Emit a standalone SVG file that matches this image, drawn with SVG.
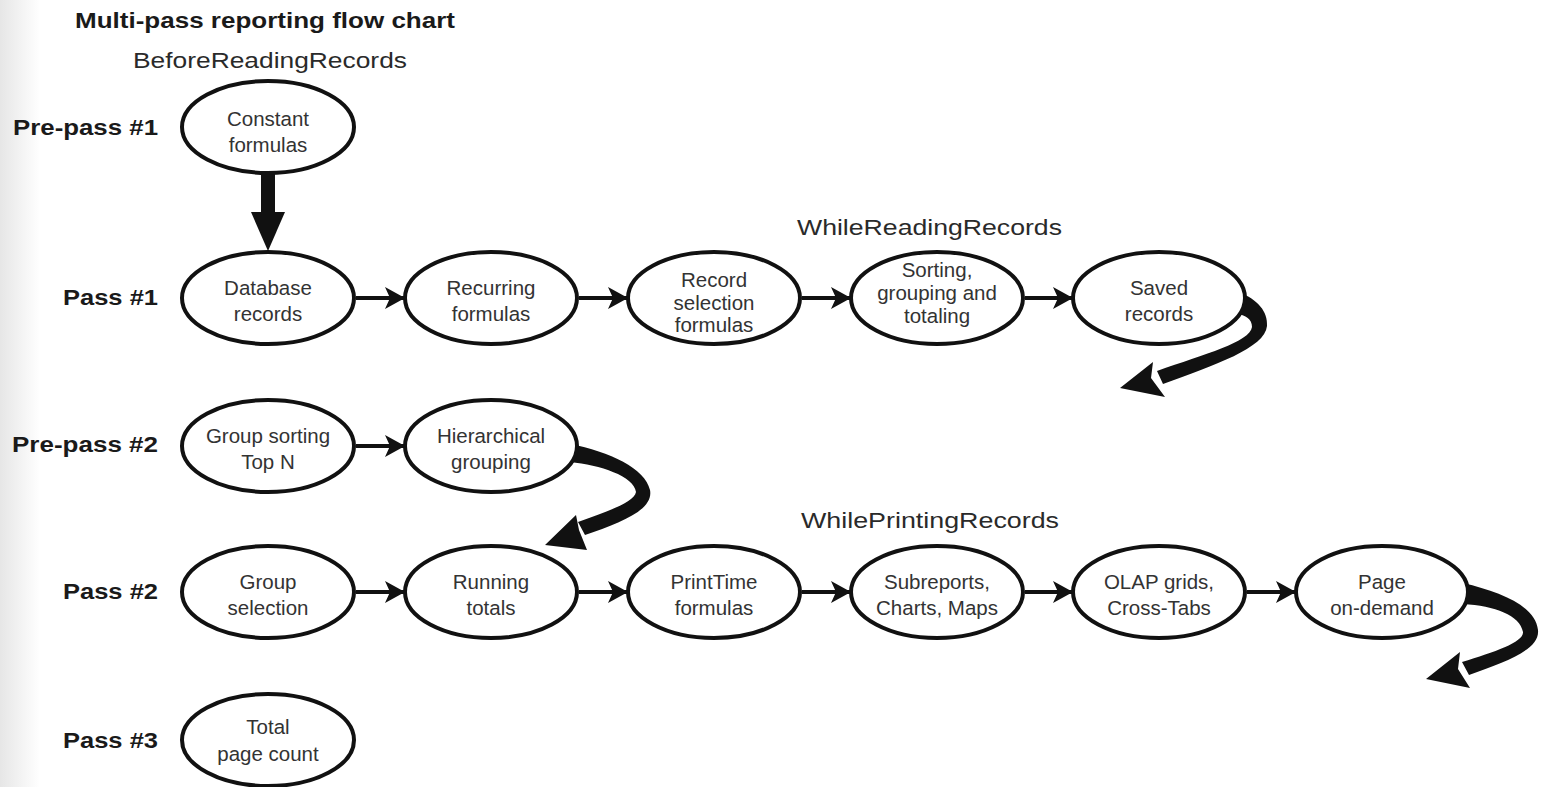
<svg xmlns="http://www.w3.org/2000/svg" width="1541" height="787" viewBox="0 0 1541 787">
<defs>
<linearGradient id="edge" x1="0" y1="0" x2="1" y2="0">
<stop offset="0" stop-color="#e6e6e6"/>
<stop offset="1" stop-color="#ffffff"/>
</linearGradient>
<marker id="ah" viewBox="0 0 20 22" refX="19" refY="11" markerWidth="20" markerHeight="22" markerUnits="userSpaceOnUse" orient="auto">
<path d="M0,0 L20,11 L0,22 L5,11 z" fill="#111"/>
</marker>
</defs>
<style>
.node ellipse{fill:#fff;stroke:#111;stroke-width:4}
.node text{font-family:"Liberation Sans",Arial,Helvetica,sans-serif;font-size:20.5px;fill:#333;text-anchor:middle}
.lbl{font-family:"Liberation Sans",Arial,Helvetica,sans-serif;font-size:22px;font-weight:bold;fill:#1a1a1a;text-anchor:end}
.head{font-family:"Liberation Sans",Arial,Helvetica,sans-serif;font-size:22px;fill:#2a2a2a}
.title{font-family:"Liberation Sans",Arial,Helvetica,sans-serif;font-size:22px;font-weight:bold;fill:#1a1a1a}
.h{stroke:#111;stroke-width:4;fill:none;marker-end:url(#ah)}
.fill{fill:#111}
</style>
<rect x="0" y="0" width="1541" height="787" fill="#fff"/>
<rect x="0" y="0" width="40" height="787" fill="url(#edge)"/>

<text class="title" x="75" y="28" textLength="380" lengthAdjust="spacingAndGlyphs">Multi-pass reporting flow chart</text>
<text class="head" x="133" y="68" textLength="274" lengthAdjust="spacingAndGlyphs">BeforeReadingRecords</text>
<text class="head" x="797" y="235" textLength="265" lengthAdjust="spacingAndGlyphs">WhileReadingRecords</text>
<text class="head" x="801" y="528" textLength="258" lengthAdjust="spacingAndGlyphs">WhilePrintingRecords</text>

<g id="labels">
<text class="lbl" x="158" y="135" textLength="145" lengthAdjust="spacingAndGlyphs">Pre-pass #1</text>
<text class="lbl" x="158" y="305" textLength="95" lengthAdjust="spacingAndGlyphs">Pass #1</text>
<text class="lbl" x="158" y="452" textLength="146" lengthAdjust="spacingAndGlyphs">Pre-pass #2</text>
<text class="lbl" x="158" y="599" textLength="95" lengthAdjust="spacingAndGlyphs">Pass #2</text>
<text class="lbl" x="158" y="748" textLength="95" lengthAdjust="spacingAndGlyphs">Pass #3</text>
</g>

<g id="connectors">
<rect class="fill" x="261" y="172" width="14" height="44"/>
<polygon class="fill" points="251,212 285,212 268,251"/>
<line class="h" x1="356" y1="298" x2="404" y2="298"/>
<line class="h" x1="579" y1="298" x2="627" y2="298"/>
<line class="h" x1="802" y1="298" x2="850" y2="298"/>
<line class="h" x1="1025" y1="298" x2="1072" y2="298"/>
<line class="h" x1="356" y1="446" x2="404" y2="446"/>
<line class="h" x1="356" y1="592" x2="404" y2="592"/>
<line class="h" x1="579" y1="592" x2="627" y2="592"/>
<line class="h" x1="802" y1="592" x2="850" y2="592"/>
<line class="h" x1="1025" y1="592" x2="1072" y2="592"/>
<line class="h" x1="1247" y1="592" x2="1295" y2="592"/>
<path class="fill" d="M1238,292 C1258,299 1268,312 1267,326 C1265,348 1215,365 1163,384 L1157,371 C1205,354 1250,342 1252,327 C1252,319 1246,315 1236,314 Z"/>
<polygon class="fill" points="1120,388 1153,362 1151,378 1165,397"/>
<path class="fill" d="M570,444 C610,452 645,468 650,490 C654,510 620,523 585,535 L578,522 C605,512 634,503 636,492 C634,476 600,465 570,462 Z"/>
<polygon class="fill" points="545,545 576,515 579,530 587,550"/>
<path class="fill" d="M1463,583 C1500,592 1535,605 1538,630 C1540,650 1505,662 1469,675 L1462,662 C1495,652 1524,642 1523,632 C1520,615 1495,606 1463,604 Z"/>
<polygon class="fill" points="1426,679 1460,652 1458,669 1470,688"/>
</g>

<g id="n-constant" class="node"><ellipse cx="268" cy="127" rx="86" ry="46"/><text x="268" y="126">Constant</text><text x="268" y="152">formulas</text></g>

<g id="n-database" class="node"><ellipse cx="268" cy="298" rx="86" ry="46"/><text x="268" y="295">Database</text><text x="268" y="321">records</text></g>
<g id="n-recurring" class="node"><ellipse cx="491" cy="298" rx="86" ry="46"/><text x="491" y="295">Recurring</text><text x="491" y="321">formulas</text></g>
<g id="n-recordsel" class="node"><ellipse cx="714" cy="298" rx="86" ry="46"/><text x="714" y="287">Record</text><text x="714" y="310">selection</text><text x="714" y="332">formulas</text></g>
<g id="n-sorting" class="node"><ellipse cx="937" cy="298" rx="86" ry="46"/><text x="937" y="277">Sorting,</text><text x="937" y="300">grouping and</text><text x="937" y="323">totaling</text></g>
<g id="n-saved" class="node"><ellipse cx="1159" cy="298" rx="86" ry="46"/><text x="1159" y="295">Saved</text><text x="1159" y="321">records</text></g>

<g id="n-groupsort" class="node"><ellipse cx="268" cy="446" rx="86" ry="46"/><text x="268" y="443">Group sorting</text><text x="268" y="469">Top N</text></g>
<g id="n-hier" class="node"><ellipse cx="491" cy="446" rx="86" ry="46"/><text x="491" y="443">Hierarchical</text><text x="491" y="469">grouping</text></g>

<g id="n-groupsel" class="node"><ellipse cx="268" cy="592" rx="86" ry="46"/><text x="268" y="589">Group</text><text x="268" y="615">selection</text></g>
<g id="n-running" class="node"><ellipse cx="491" cy="592" rx="86" ry="46"/><text x="491" y="589">Running</text><text x="491" y="615">totals</text></g>
<g id="n-printtime" class="node"><ellipse cx="714" cy="592" rx="86" ry="46"/><text x="714" y="589">PrintTime</text><text x="714" y="615">formulas</text></g>
<g id="n-subreports" class="node"><ellipse cx="937" cy="592" rx="86" ry="46"/><text x="937" y="589">Subreports,</text><text x="937" y="615">Charts, Maps</text></g>
<g id="n-olap" class="node"><ellipse cx="1159" cy="592" rx="86" ry="46"/><text x="1159" y="589">OLAP grids,</text><text x="1159" y="615">Cross-Tabs</text></g>
<g id="n-page" class="node"><ellipse cx="1382" cy="592" rx="86" ry="46"/><text x="1382" y="589">Page</text><text x="1382" y="615">on-demand</text></g>

<g id="n-total" class="node"><ellipse cx="268" cy="740" rx="86" ry="46"/><text x="268" y="734">Total</text><text x="268" y="761">page count</text></g>
</svg>
